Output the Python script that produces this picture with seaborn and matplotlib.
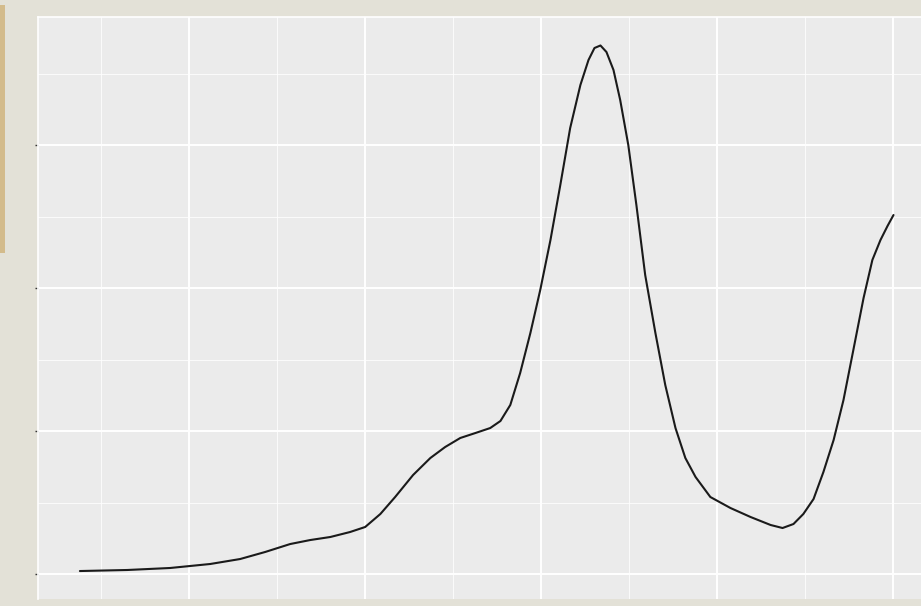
import matplotlib
matplotlib.use("Agg")
import matplotlib.pyplot as plt
import seaborn as sns
import pandas as pd
from matplotlib.patches import Rectangle
from matplotlib.ticker import MultipleLocator, NullFormatter

# values
year = [1991.90, 1993.24, 1994.46, 1995.60, 1996.45, 1997.16, 1997.87, 1998.44,
        1999.01, 1999.57, 2000.00, 2000.43, 2000.85, 2001.36, 2001.85, 2002.27,
        2002.70, 2003.13, 2003.55, 2003.84, 2004.12, 2004.40, 2004.69, 2004.97,
        2005.26, 2005.54, 2005.82, 2006.11, 2006.34, 2006.51, 2006.68, 2006.85,
        2007.05, 2007.24, 2007.47, 2007.70, 2007.95, 2008.24, 2008.52, 2008.81,
        2009.09, 2009.38, 2009.80, 2010.37, 2010.94, 2011.51, 2011.85, 2012.16,
        2012.44, 2012.73, 2013.01, 2013.30, 2013.58, 2013.86, 2014.15, 2014.40,
        2014.63, 2014.83, 2015.00]
value = [0.52, 0.70, 1.05, 1.75, 2.62, 3.85, 5.24, 5.94,
         6.47, 7.34, 8.22, 10.49, 13.46, 17.31, 20.28, 22.20,
         23.78, 24.65, 25.52, 26.75, 29.55, 35.14, 42.13, 49.65,
         58.39, 68.01, 77.97, 85.49, 89.86, 91.96, 92.40, 91.26,
         88.11, 82.87, 75.00, 64.51, 52.27, 42.13, 33.04, 25.52,
         20.28, 16.96, 13.46, 11.54, 9.97, 8.57, 8.04, 8.74,
         10.49, 13.11, 17.83, 23.43, 30.42, 39.16, 48.25, 54.90,
         58.39, 60.84, 62.76]

df = pd.DataFrame({"year": year, "value": value})

sns.set_theme(style="darkgrid", rc={
    "axes.facecolor": "#EBEBEB",
    "grid.color": "white",
})

fig = plt.figure(figsize=(9.21, 6.06), dpi=100, facecolor="#E3E1D7")
ax = fig.add_axes([38 / 921, 7 / 606, 896 / 921, 582 / 606])

sns.lineplot(data=df, x="year", y="value", ax=ax, color="#1a1a1a",
             linewidth=1.5, sort=False, estimator=None,
             solid_joinstyle="round", solid_capstyle="round")

ax.set_xlim(1990.71, 2016.15)
ax.set_ylim(-4.37, 97.38)

ax.xaxis.set_major_locator(MultipleLocator(5))
ax.xaxis.set_minor_locator(MultipleLocator(2.5))
ax.yaxis.set_major_locator(MultipleLocator(25))
ax.yaxis.set_minor_locator(MultipleLocator(12.5))
ax.grid(which="major", color="white", linewidth=1.4)
ax.grid(which="minor", color="white", linewidth=0.7, alpha=0.8)

ax.xaxis.set_major_formatter(NullFormatter())
ax.yaxis.set_major_formatter(NullFormatter())
ax.tick_params(axis="x", which="both", length=0)
ax.tick_params(axis="y", which="major", length=2.5, width=1, color="#333333", direction="out", left=True)
ax.tick_params(axis="y", which="minor", length=0)
ax.set_xlabel("")
ax.set_ylabel("")

for side in ["right", "bottom"]:
    ax.spines[side].set_visible(False)
for side in ["left", "top"]:
    ax.spines[side].set_visible(True)
    ax.spines[side].set_color("white")
    ax.spines[side].set_linewidth(1.2)

# tan strip at the left edge of the backdrop
fig.add_artist(Rectangle((0, 1 - 253 / 606), 5 / 921, 248 / 606,
                         transform=fig.transFigure, color="#D3BB8B", lw=0))

fig.savefig("out.png", dpi=100, facecolor=fig.get_facecolor())
